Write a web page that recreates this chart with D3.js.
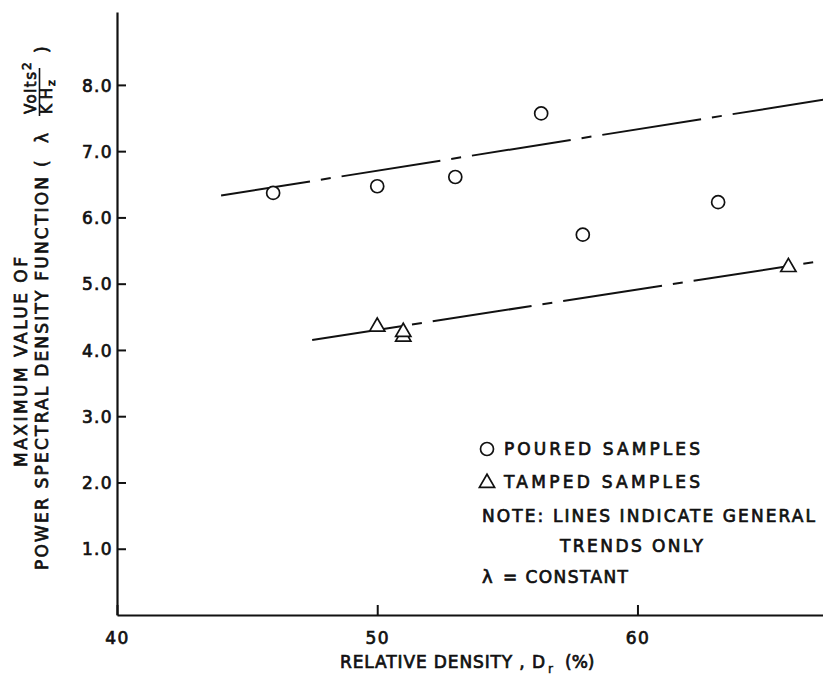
<!DOCTYPE html>
<html>
<head>
<meta charset="utf-8">
<script src="https://cdn.jsdelivr.net/npm/d3@7"></script>
<style>
  body { margin: 0; background: #fff; }
  svg text { font-family: "DejaVu Sans", sans-serif; fill: #111; }
</style>
</head>
<body>
<div id="chart"></div>
<script>
// data
var pouredX = [46.0, 50.0, 53.0, 56.3, 57.9, 63.1];
var pouredY = [6.37, 6.47, 6.61, 7.57, 5.74, 6.23];

var tampedX = [50.0, 51.0, 51.0, 65.8];
var tampedY = [4.35, 4.20, 4.27, 5.25];

// trend lines (end points)
var upperTrendX = [44.0, 67.2];
var upperTrendY = [6.33, 7.78];
var lowerTrendX = [47.5, 67.2];
var lowerTrendY = [4.15, 5.35];

var xTicks = [40, 50, 60];
var yTicks = [1, 2, 3, 4, 5, 6, 7, 8];

var width = 823, height = 681;
var ink = "#111";

var svg = d3.select("#chart").append("svg")
    .attr("width", width)
    .attr("height", height);

var x = d3.scaleLinear().domain([40, 67.13]).range([117, 823]);
var y = d3.scaleLinear().domain([0, 9.1]).range([615, 12]);

// trend lines
var line = d3.line()
    .x(function(d){ return x(d[0]); })
    .y(function(d){ return y(d[1]); });

function trend(xs, ys) {
    var pts = xs.map(function(v, i){ return [v, ys[i]]; });
    svg.append("path")
        .datum(pts)
        .attr("d", line)
        .attr("fill", "none")
        .attr("stroke", ink)
        .attr("stroke-width", 2)
        .attr("stroke-dasharray", "100,11,10,11")
        .attr("stroke-dashoffset", 10);
}
trend(upperTrendX, upperTrendY);
trend(lowerTrendX, lowerTrendY);

// axes
var yAxis = d3.axisLeft(y)
    .tickValues(yTicks)
    .tickSizeInner(-9)
    .tickSizeOuter(0)
    .tickPadding(4)
    .tickFormat(d3.format(".1f"));

var gy = svg.append("g")
    .attr("transform", "translate(" + x(40) + ",0)")
    .call(yAxis);

var xAxis = d3.axisBottom(x)
    .tickValues(xTicks)
    .tickSizeInner(-10)
    .tickSizeOuter(0)
    .tickPadding(14);

var gx = svg.append("g")
    .attr("transform", "translate(0," + y(0) + ")")
    .call(xAxis);

[gx, gy].forEach(function(g){
    g.select(".domain").attr("stroke", ink).attr("stroke-width", 2.2);
    g.selectAll(".tick line").attr("stroke", ink).attr("stroke-width", 2);
    g.selectAll(".tick text")
        .attr("font-size", "17px")
        .attr("fill", ink)
        .attr("stroke", ink)
        .attr("stroke-width", 0.7)
        .style("letter-spacing", "0.08em");
});
gy.selectAll(".tick text").attr("dy", "0.36em");
gx.selectAll(".tick text").attr("dy", "0.9em");

// points
svg.append("g").selectAll("circle")
    .data(pouredX)
    .enter().append("circle")
    .attr("cx", function(d){ return x(d); })
    .attr("cy", function(d, i){ return y(pouredY[i]); })
    .attr("r", 6.5)
    .attr("fill", "#fff")
    .attr("stroke", ink)
    .attr("stroke-width", 1.7);

var tri = d3.symbol().type(d3.symbolTriangle).size(100);
svg.append("g").selectAll("path")
    .data(tampedX)
    .enter().append("path")
    .attr("d", tri)
    .attr("transform", function(d, i){ return "translate(" + x(d) + "," + y(tampedY[i]) + ")"; })
    .attr("fill", "#fff")
    .attr("stroke", ink)
    .attr("stroke-width", 1.7);

// text helper
function label(parent, tx, ty, str, size, len) {
    var t = parent.append("text")
        .attr("x", tx)
        .attr("y", ty)
        .attr("font-size", size + "px")
        .attr("stroke", ink)
        .attr("stroke-width", 0.7)
        .text(str);
    if (len) t.attr("textLength", len).attr("lengthAdjust", "spacing");
    return t;
}

// legend
svg.append("circle")
    .attr("cx", 487).attr("cy", 449).attr("r", 6.5)
    .attr("fill", "#fff").attr("stroke", ink).attr("stroke-width", 1.7);
svg.append("path")
    .attr("d", tri)
    .attr("transform", "translate(487,483)")
    .attr("fill", "#fff").attr("stroke", ink).attr("stroke-width", 1.7);

label(svg, 504, 455, "POURED SAMPLES", 17, 196);
label(svg, 504, 488, "TAMPED SAMPLES", 17, 196);
label(svg, 482, 522, "NOTE: LINES INDICATE GENERAL", 17, 333);
label(svg, 560, 552, "TRENDS ONLY", 17, 143);
label(svg, 482, 583, "λ", 18);
label(svg, 503, 583, "= CONSTANT", 17, 125);

// x axis title
label(svg, 340, 668, "RELATIVE DENSITY , D", 17, 205);
svg.append("text")
    .attr("x", 548).attr("y", 673)
    .attr("font-size", "12px")
    .attr("stroke", ink).attr("stroke-width", 0.5)
    .text("r");
label(svg, 565, 668, "(%)", 17);

// y axis title (rotated)
var gt = svg.append("g").attr("transform", "rotate(-90)");
label(gt, -467, 27, "MAXIMUM VALUE OF", 17, 210);
label(gt, -570, 48, "POWER SPECTRAL DENSITY FUNCTION", 17, 393);
label(gt, -167, 48, "(", 17);
label(gt, -143, 48, "λ", 17);
label(gt, -114, 36, "Volts", 15, 42);
label(gt, -70, 31, "2", 12);
gt.append("line")
    .attr("x1", -116).attr("x2", -68)
    .attr("y1", 39.5).attr("y2", 39.5)
    .attr("stroke", ink).attr("stroke-width", 1.6);
label(gt, -114, 52, "KH", 15, 26);
label(gt, -86, 55, "z", 11);
label(gt, -53, 48, ")", 17);
</script>
</body>
</html>
